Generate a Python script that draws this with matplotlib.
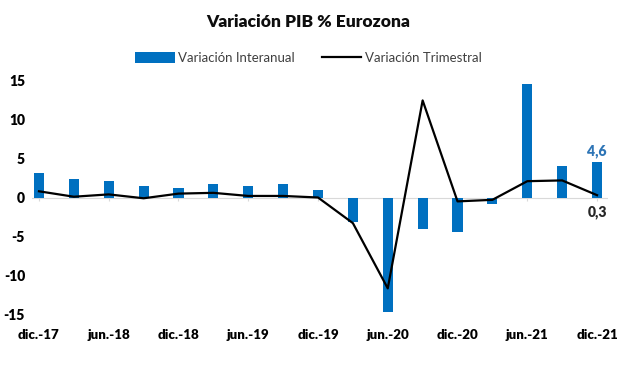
import matplotlib
matplotlib.use("Agg")
import matplotlib.pyplot as plt
import numpy as np

categories = ["dic.-17", "mar.-18", "jun.-18", "sep.-18", "dic.-18", "mar.-19", "jun.-19",
              "sep.-19", "dic.-19", "mar.-20", "jun.-20", "sep.-20", "dic.-20", "mar.-21",
              "jun.-21", "sep.-21", "dic.-21"]
interanual = [3.1, 2.4, 2.1, 1.5, 1.2, 1.8, 1.5, 1.8, 1.0, -3.2, -14.7, -4.1, -4.4, -0.9,
              14.6, 4.0, 4.6]
trimestral = [0.8, 0.1, 0.4, -0.1, 0.5, 0.6, 0.2, 0.2, 0.0, -3.3, -11.7, 12.5, -0.5, -0.3,
              2.1, 2.2, 0.3]
yticks = [-15, -10, -5, 0, 5, 10, 15]

plt.rcParams['font.family'] = ['Lato', 'DejaVu Sans']

fig = plt.figure(figsize=(6.17, 3.70), dpi=100)
ax = fig.add_axes([32/617, 1-314/370, (607.5-32)/617, (314-81)/370])

x = np.arange(len(categories))
bar_color = "#0070C0"
bars = ax.bar(x, interanual, width=0.29, color=bar_color, label="Variación Interanual", zorder=3)
line, = ax.plot(x, trimestral, color="black", lw=1.6, label="Variación Trimestral", zorder=4)

ax.set_xlim(-0.2, 16.3)
ax.set_ylim(-15, 15)
ax.set_yticks(yticks)
ax.set_yticklabels([str(v) for v in yticks], fontsize=10, fontweight='heavy')
ax.tick_params(axis='y', length=0, pad=5)

ax.set_xticks(x[::2])
ax.set_xticklabels(categories[::2], fontsize=9.6, fontweight='heavy')
ax.tick_params(axis='x', length=0, pad=11)
for s in ax.spines.values():
    s.set_visible(False)

ax.axhline(0, color='#D9D9D9', lw=0.8, zorder=1)
ax.vlines(x[::2], -0.5, 0, color='#D9D9D9', lw=0.8, zorder=1)

ax.annotate(f"{interanual[-1]:.1f}".replace('.', ','), (x[-1], interanual[-1]),
            xytext=(0, 3), textcoords='offset points', ha='center', va='bottom',
            fontsize=10, fontweight='heavy', color='#2E75B6')
ax.annotate(f"{trimestral[-1]:.1f}".replace('.', ','), (x[-1], trimestral[-1]),
            xytext=(0, -7), textcoords='offset points', ha='center', va='top',
            fontsize=10, fontweight='heavy', color='#262626')

fig.text(0.5, 1-22/370, "Variación PIB % Eurozona", ha='center', va='center',
         fontsize=12.5, fontweight='heavy', color='#0D0D0D')

fig.legend([bars, line], ["Variación Interanual", "Variación Trimestral"], loc='center',
           bbox_to_anchor=(0.5, 1-58/370), ncol=2, frameon=False,
           fontsize=9.5, handlelength=3.0, handleheight=0.9, columnspacing=2.0,
           handletextpad=0.3, labelcolor='#404040')

fig.savefig("out.png", dpi=100)
